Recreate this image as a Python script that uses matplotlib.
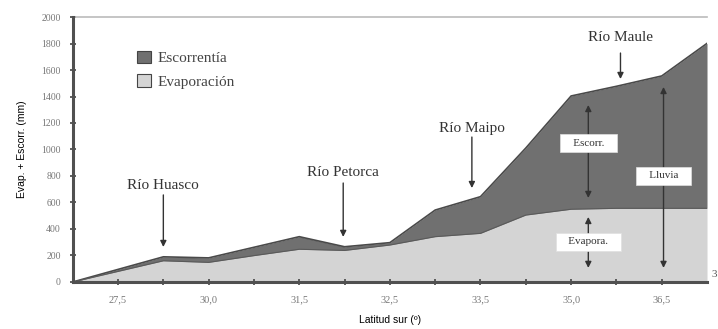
import matplotlib.pyplot as plt
from matplotlib.patches import Patch

# latitude ticks, one point per tick position along the transect
tick_pos = list(range(15))
tick_labels = {1: '27,5', 3: '30,0', 5: '31,5', 7: '32,5', 9: '33,5', 11: '35,0', 13: '36,5'}

# mm per year
evaporacion = [0, 80, 160, 148, 199, 247, 238, 279, 342, 367, 505, 549, 556, 556, 556]
total = [0, 95, 190, 182, 262, 342, 266, 297, 543, 644, 1011, 1404, 1477, 1555, 1801]
escorrentia = [t - e for t, e in zip(total, evaporacion)]

rivers = ['Río Huasco', 'Río Petorca', 'Río Maipo', 'Río Maule']
river_x = [2.0, 5.97, 8.81, 12.09]
river_text_y = [732, 830, 1162, 1842]
river_arrow_top = [657, 747, 1094, 1728]
river_arrow_tip = [264, 340, 709, 1532]

DARK = '#707070'
LIGHT = '#d4d4d4'
INK = '#333333'
serif = ['Liberation Serif', 'DejaVu Serif']
sans = ['Liberation Sans', 'DejaVu Sans']

fig = plt.figure(figsize=(7.18, 3.29), dpi=100)
ax = fig.add_axes([0.1013, 0.1429, 0.8834, 0.8054])

ax.fill_between(tick_pos, 0, evaporacion, color=LIGHT, lw=0, zorder=1)
ax.fill_between(tick_pos, evaporacion, total, color=DARK, lw=0, zorder=1)
ax.plot(tick_pos, total, color='#4a4a4a', lw=1.2, zorder=2)
ax.plot(tick_pos, evaporacion, color='#5a5a5a', lw=0.8, zorder=2)

ax.set_xlim(0, 14)
ax.set_ylim(0, 2000)

ax.set_yticks(range(0, 2001, 200))
ax.set_yticklabels([str(v) for v in range(0, 2001, 200)], family=serif,
                   fontsize=7, color='#777777')
ax.set_xticks(range(1, 14))
ax.set_xticklabels([tick_labels.get(i, '') for i in range(1, 14)], family=serif,
                   fontsize=7.5, color='#777777')
ax.tick_params(axis='both', direction='inout', length=5, width=1.2, color='#444444')
ax.tick_params(axis='x', pad=7)
ax.tick_params(axis='y', pad=6)

for side in ['left', 'bottom']:
    ax.spines[side].set_color('#505050')
    ax.spines[side].set_linewidth(2.2)
    ax.spines[side].set_zorder(5)
ax.spines['top'].set_color('#bbbbbb')
ax.spines['top'].set_linewidth(1.2)
ax.spines['right'].set_visible(False)

ax.set_ylabel('Evap. + Escorr. (mm)', family=sans, fontsize=7.5, labelpad=10)
ax.set_xlabel('Latitud sur (º)', family=sans, fontsize=7.5, labelpad=8)

arrow_kw = dict(arrowstyle='-|>', color=INK, lw=1.0, mutation_scale=9,
                shrinkA=0, shrinkB=0)
for name, x, ty, a0, a1 in zip(rivers, river_x, river_text_y, river_arrow_top, river_arrow_tip):
    ax.text(x, ty, name, ha='center', va='center', family=serif, fontsize=11, color=INK)
    ax.annotate('', xy=(x, a1), xytext=(x, a0), arrowprops=arrow_kw)

# double arrows for the water balance terms
dbl_kw = dict(arrowstyle='<|-|>', color=INK, lw=1.0, mutation_scale=9,
              shrinkA=0, shrinkB=0)
box_kw = dict(boxstyle='square,pad=0.4', facecolor='white', edgecolor='#e0e0e0', lw=0.5)
for label, x, top, bot, ly in [('Escorr.', 11.38, 1336, 634, 1049),
                               ('Evapora.', 11.38, 491, 106, 302),
                               ('Lluvia', 13.04, 1472, 106, 800)]:
    ax.annotate('', xy=(x, top), xytext=(x, bot), arrowprops=dbl_kw, zorder=3)
    ax.text(x, ly, '   ' + label + '   ', ha='center', va='center', family=serif,
            fontsize=8, color=INK, bbox=box_kw, zorder=4)

handles = [Patch(facecolor=DARK, edgecolor='#444444', lw=0.8, label='Escorrentía'),
           Patch(facecolor=LIGHT, edgecolor='#444444', lw=0.8, label='Evaporación')]
leg = ax.legend(handles=handles, loc='upper left', bbox_to_anchor=(0.08, 0.925),
                frameon=False, handlelength=0.9, handleheight=0.9, handletextpad=0.4,
                labelspacing=0.6, prop={'family': serif, 'size': 11})
for t in leg.get_texts():
    t.set_color('#444444')

fig.text(0.999, 0.165, '3', ha='right', va='center', family=serif, fontsize=8, color='#555555')

fig.savefig('out.png', dpi=100)
